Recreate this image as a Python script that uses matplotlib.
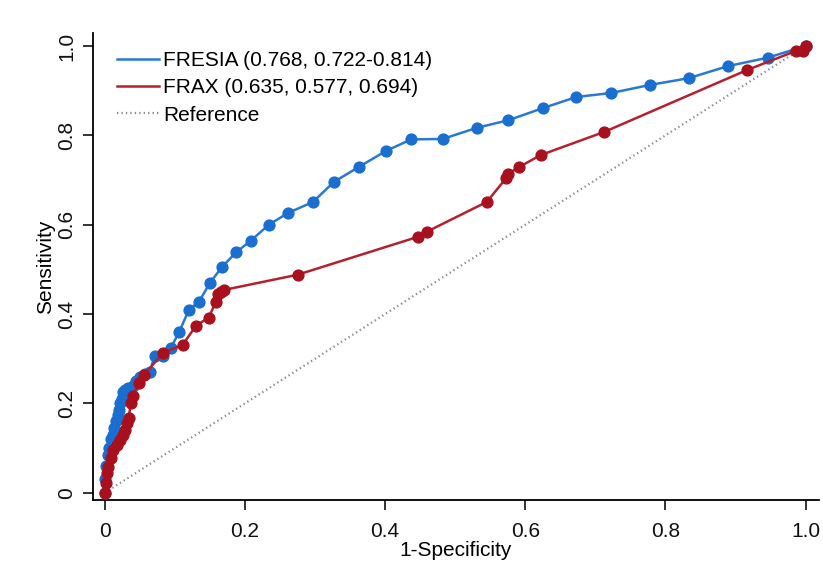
import matplotlib
matplotlib.use("Agg")
from matplotlib import pyplot as plt

plt.rcParams['font.family'] = ['Liberation Sans', 'DejaVu Sans']

# FRESIA ROC points (1-specificity, sensitivity)
fresia_x = [0, 0, 0.002, 0.004, 0.006, 0.009, 0.011, 0.013, 0.016, 0.018,
            0.020, 0.022, 0.024, 0.026, 0.029, 0.033, 0.040, 0.045, 0.050,
            0.057, 0.064, 0.071, 0.083, 0.094, 0.106, 0.120, 0.134, 0.150,
            0.167, 0.187, 0.208, 0.234, 0.261, 0.297, 0.327, 0.362, 0.401,
            0.437, 0.482, 0.531, 0.576, 0.625, 0.673, 0.723, 0.778, 0.833,
            0.889, 0.946, 1.0]
fresia_y = [0, 0.03, 0.06, 0.085, 0.10, 0.12, 0.13, 0.145, 0.16, 0.175,
            0.185, 0.20, 0.21, 0.226, 0.23, 0.235, 0.24, 0.25, 0.26,
            0.265, 0.271, 0.306, 0.306, 0.324, 0.36, 0.41, 0.427, 0.47,
            0.505, 0.538, 0.564, 0.60, 0.626, 0.651, 0.696, 0.729, 0.765,
            0.791, 0.792, 0.817, 0.834, 0.861, 0.886, 0.895, 0.913, 0.928,
            0.955, 0.974, 1.0]

# FRAX ROC points
frax_x = [0, 0.001, 0.003, 0.004, 0.009, 0.011, 0.017, 0.021, 0.026, 0.029,
          0.031, 0.034, 0.037, 0.040, 0.048, 0.056, 0.083, 0.111, 0.130,
          0.148, 0.158, 0.161, 0.165, 0.170, 0.275, 0.447, 0.459, 0.545,
          0.573, 0.576, 0.591, 0.622, 0.713, 0.916, 0.986, 0.997, 1.0]
frax_y = [0, 0.022, 0.045, 0.058, 0.078, 0.096, 0.107, 0.119, 0.130, 0.141,
          0.157, 0.168, 0.201, 0.217, 0.246, 0.264, 0.313, 0.331, 0.374,
          0.392, 0.426, 0.444, 0.449, 0.454, 0.488, 0.573, 0.584, 0.651,
          0.705, 0.714, 0.729, 0.756, 0.808, 0.946, 0.989, 0.989, 1.0]

labels = ["FRESIA (0.768, 0.722-0.814)", "FRAX (0.635, 0.577, 0.694)", "Reference"]
ticks = [0, 0.2, 0.4, 0.6, 0.8, 1.0]
tick_labels = ["0", "0.2", "0.4", "0.6", "0.8", "1.0"]

fig = plt.figure(figsize=(8.23, 5.61), dpi=100)
ax = fig.add_axes([0.113, 0.109, 0.882, 0.832])

ax.plot(fresia_x, fresia_y, color="#2a78d4", lw=1.8, marker="o", ms=7.8,
        mfc="#1a6ed0", mec="#1a6ed0", label=labels[0], zorder=3)
ax.plot(frax_x, frax_y, color="#b5202e", lw=1.8, marker="o", ms=7.8,
        mfc="#a8101e", mec="#a8101e", label=labels[1], zorder=4)
ax.plot([0, 1], [0, 1], color="#8a8a8a", lw=1.6, linestyle=(0, (0.6, 1.4)),
        label=labels[2], zorder=2)

ax.set_xlim(-0.017, 1.019)
ax.set_ylim(-0.016, 1.029)
ax.set_xticks(ticks)
ax.set_xticklabels(tick_labels)
ax.set_yticks(ticks)
ax.set_yticklabels(tick_labels, rotation=90, va="center")
ax.tick_params(axis="both", direction="out", length=7, width=1.2,
               labelsize=15, colors="#111111")
ax.tick_params(axis="x", pad=9)
ax.tick_params(axis="y", pad=5)
for side in ("top", "right"):
    ax.spines[side].set_visible(False)
for side in ("left", "bottom"):
    ax.spines[side].set_linewidth(1.3)

ax.set_xlabel("1-Specificity", fontsize=15, labelpad=0)
ax.set_ylabel("Sensitivity", fontsize=15, labelpad=2)

leg = ax.legend(loc="upper left", frameon=False, fontsize=15,
                bbox_to_anchor=(0.033, 0.962), handlelength=2.0,
                handletextpad=0.2, labelspacing=0.4, borderaxespad=0,
                borderpad=0)
for h in leg.legend_handles:
    h.set_marker("")

fig.savefig("out.png", dpi=100, facecolor="white")
